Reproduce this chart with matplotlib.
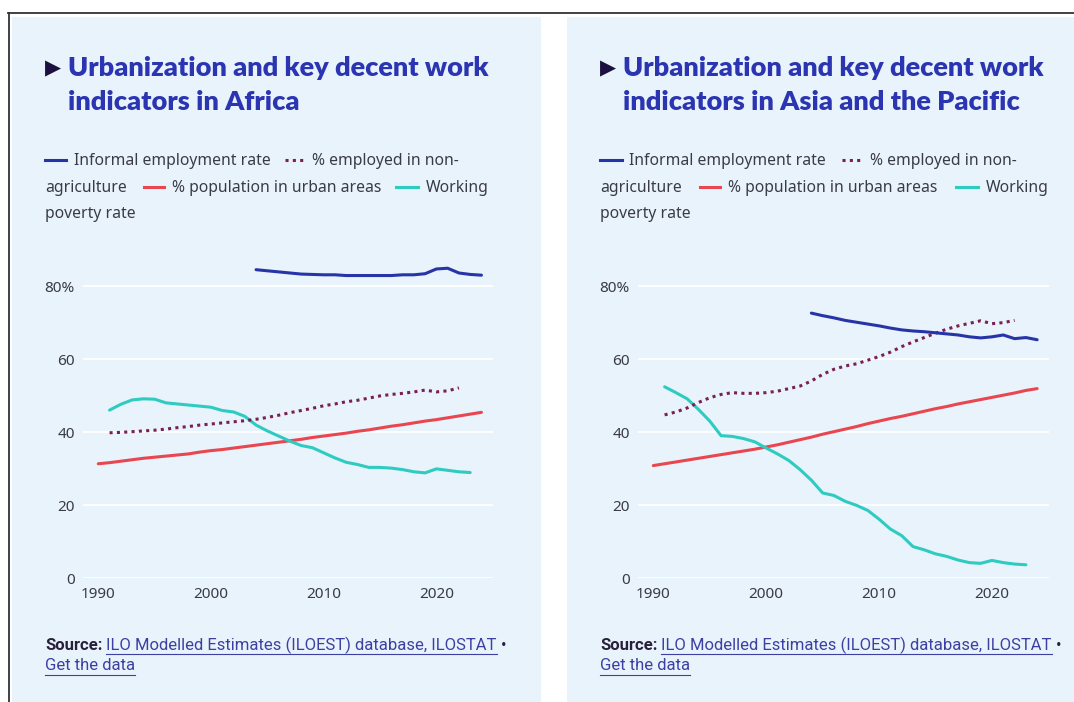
import matplotlib
matplotlib.use("Agg")
from matplotlib import pyplot as plt
from matplotlib.lines import Line2D
from matplotlib.patches import Rectangle

# ---- data: Africa ----
af_informal_years = list(range(2004, 2025))
af_informal = [84.6, 84.3, 84.0, 83.7, 83.4, 83.3, 83.2, 83.2, 83.0, 83.0, 83.0,
               83.0, 83.0, 83.2, 83.2, 83.5, 84.8, 85.0, 83.7, 83.3, 83.1]
af_nonagri_years = list(range(1991, 2023))
af_nonagri = [39.9, 40.0, 40.2, 40.4, 40.6, 40.9, 41.3, 41.6, 42.0, 42.3, 42.6,
              42.9, 43.2, 43.6, 44.1, 44.7, 45.4, 46.0, 46.6, 47.3, 47.8, 48.4,
              48.8, 49.4, 50.0, 50.4, 50.7, 51.1, 51.6, 51.1, 51.4, 52.2]
af_urban_years = list(range(1990, 2025))
af_urban = [31.4, 31.7, 32.1, 32.5, 32.9, 33.2, 33.5, 33.8, 34.1, 34.6, 35.0,
            35.3, 35.7, 36.1, 36.5, 36.9, 37.3, 37.7, 38.1, 38.6, 39.0, 39.4,
            39.8, 40.3, 40.7, 41.2, 41.7, 42.1, 42.6, 43.1, 43.5, 44.0, 44.5,
            45.0, 45.5]
af_poverty_years = list(range(1991, 2024))
af_poverty = [46.1, 47.7, 48.9, 49.2, 49.1, 48.1, 47.8, 47.5, 47.2, 46.9, 46.0,
              45.6, 44.4, 42.0, 40.4, 39.0, 37.6, 36.4, 35.8, 34.4, 33.0, 31.8,
              31.2, 30.4, 30.4, 30.2, 29.8, 29.2, 28.9, 30.0, 29.6, 29.2, 29.0]

# ---- data: Asia and the Pacific ----
ap_informal_years = list(range(2004, 2025))
ap_informal = [72.7, 72.0, 71.4, 70.7, 70.2, 69.7, 69.2, 68.6, 68.1, 67.8, 67.6,
               67.3, 67.0, 66.7, 66.2, 65.9, 66.2, 66.7, 65.7, 66.0, 65.4]
ap_nonagri_years = list(range(1991, 2023))
ap_nonagri = [44.8, 45.6, 46.7, 48.2, 49.5, 50.4, 50.9, 50.7, 50.7, 50.9, 51.3,
              52.0, 52.7, 54.1, 55.9, 57.3, 58.2, 58.8, 59.8, 60.8, 62.0, 63.5,
              64.8, 66.0, 67.2, 68.3, 69.2, 69.9, 70.6, 69.8, 70.1, 70.7]
ap_urban_years = list(range(1990, 2025))
ap_urban = [30.9, 31.4, 31.9, 32.4, 32.9, 33.4, 33.9, 34.4, 34.9, 35.4, 36.0,
            36.6, 37.3, 38.0, 38.7, 39.5, 40.2, 40.9, 41.6, 42.4, 43.1, 43.8,
            44.4, 45.1, 45.8, 46.5, 47.1, 47.8, 48.4, 49.0, 49.6, 50.2, 50.8,
            51.5, 52.0]
ap_poverty_years = list(range(1991, 2024))
ap_poverty = [52.5, 50.9, 49.2, 46.3, 43.1, 39.1, 38.9, 38.3, 37.4, 35.7, 34.1,
              32.3, 29.8, 26.9, 23.4, 22.7, 21.1, 20.0, 18.6, 16.2, 13.5, 11.7,
              8.7, 7.8, 6.7, 6.0, 5.0, 4.3, 4.1, 4.9, 4.3, 3.9, 3.7]

y_ticks = [0, 20, 40, 60, 80]
y_tick_labels = ["0", "20", "40", "60", "80%"]
x_ticks = [1990, 2000, 2010, 2020]

BG = "#e8f3fc"
C_INFORMAL = "#2734a8"
C_NONAGRI = "#7b1f52"
C_URBAN = "#e9464f"
C_POVERTY = "#2ecbc1"
C_TITLE = "#2b35b2"
C_TEXT = "#3a3a48"
C_LINK = "#3d40a3"

W, H = 1074, 702
fig = plt.figure(figsize=(W / 100, H / 100), dpi=100, facecolor="white")


def fx(px):
    return px / W


def fy(py):
    return 1 - py / H


# frame lines and panel backgrounds
fig.add_artist(Line2D([fx(8), fx(W)], [fy(12.5), fy(12.5)], color="#333333", lw=1.3))
fig.add_artist(Line2D([fx(8.5), fx(8.5)], [fy(12.5), 0], color="#333333", lw=1.3))
fig.add_artist(Rectangle((fx(12), 0), fx(529), fy(17), transform=fig.transFigure,
                         facecolor=BG, edgecolor="none", zorder=0))
fig.add_artist(Rectangle((fx(567), 0), fx(W - 567), fy(17), transform=fig.transFigure,
                         facecolor=BG, edgecolor="none", zorder=0))

title_font = dict(family="Lato", fontweight="heavy", fontsize=19.5, color=C_TITLE)
legend_font = dict(family="Noto Sans", fontsize=11.3, color=C_TEXT, va="center")
src_font = dict(family="Roboto", fontsize=12, va="center")


def underline(t, py):
    fig.canvas.draw()
    b = t.get_window_extent()
    fig.add_artist(Line2D([b.x0 / W, b.x1 / W], [fy(py), fy(py)], color=C_LINK, lw=0.8))
    return b


def panel(x0, ax_left, ax_right, title_lines, handle_xs, series):
    # title with a dark arrow marker
    fig.text(fx(x0 + 0), fy(68), "\u25B6", family="DejaVu Sans", fontsize=15,
             color="#1c1040", va="center")
    fig.text(fx(x0 + 23), fy(68), title_lines[0], va="center", **title_font)
    fig.text(fx(x0 + 23), fy(102), title_lines[1], va="center", **title_font)

    # legend laid out as wrapped text
    hx = handle_xs
    rows = [161, 188, 214]
    fig.add_artist(Line2D([fx(x0 + hx[0][0]), fx(x0 + hx[0][1])], [fy(rows[0] - 1)] * 2,
                          color=C_INFORMAL, lw=2.2))
    fig.text(fx(x0 + hx[0][2]), fy(rows[0]), "Informal employment rate", **legend_font)
    fig.add_artist(Line2D([fx(x0 + hx[1][0]), fx(x0 + hx[1][1])], [fy(rows[0] - 1)] * 2,
                          color=C_NONAGRI, lw=2.2, linestyle=(0, (1, 1.4))))
    fig.text(fx(x0 + hx[1][2]), fy(rows[0]), "% employed in non-", **legend_font)
    fig.text(fx(x0), fy(rows[1]), "agriculture", **legend_font)
    fig.add_artist(Line2D([fx(x0 + hx[2][0]), fx(x0 + hx[2][1])], [fy(rows[1] - 1)] * 2,
                          color=C_URBAN, lw=2.2))
    fig.text(fx(x0 + hx[2][2]), fy(rows[1]), "% population in urban areas", **legend_font)
    fig.add_artist(Line2D([fx(x0 + hx[3][0]), fx(x0 + hx[3][1])], [fy(rows[1] - 1)] * 2,
                          color=C_POVERTY, lw=2.2))
    fig.text(fx(x0 + hx[3][2]), fy(rows[1]), "Working", **legend_font)
    fig.text(fx(x0), fy(rows[2]), "poverty rate", **legend_font)

    # chart area
    top, bottom = 250.0, 578.3
    ax = fig.add_axes([fx(ax_left), fy(bottom), fx(ax_right - ax_left), (bottom - top) / H])
    ax.set_facecolor(BG)
    for s in ax.spines.values():
        s.set_visible(False)
    ax.set_xlim(1988.67, 2025.05)
    ax.set_ylim(0, 90)
    ax.set_yticks(y_ticks)
    ax.set_yticklabels(y_tick_labels)
    ax.set_xticks(x_ticks)
    ax.tick_params(length=0, labelsize=11, labelcolor="#3a3a48")
    ax.tick_params(axis="y", pad=6)
    ax.tick_params(axis="x", pad=6)
    for lab in ax.get_xticklabels() + ax.get_yticklabels():
        lab.set_family("Noto Sans")
    ax.grid(axis="y", color="white", lw=1.3)
    ax.set_axisbelow(True)

    (iy, iv), (ny, nv), (uy, uv), (py, pv) = series
    ax.plot(uy, uv, color=C_URBAN, lw=2.2, solid_capstyle="round")
    ax.plot(py, pv, color=C_POVERTY, lw=2.2, solid_capstyle="round")
    ax.plot(ny, nv, color=C_NONAGRI, lw=2.2, linestyle=(0, (1, 1.4)))
    ax.plot(iy, iv, color=C_INFORMAL, lw=2.2, solid_capstyle="round")

    # source note
    t = fig.text(fx(x0), fy(645), "Source:", fontweight="bold", color="#2a1f3d", **src_font)
    fig.canvas.draw()
    bb = t.get_window_extent()
    link = fig.text(bb.x1 / W + fx(4), fy(645),
                    "ILO Modelled Estimates (ILOEST) database, ILOSTAT",
                    color=C_LINK, **src_font)
    lb = underline(link, 654)
    fig.text(lb.x1 / W + fx(4), fy(645), "\u2022", color="#2a1f3d", **src_font)
    g = fig.text(fx(x0), fy(666), "Get the data", color=C_LINK, **src_font)
    underline(g, 675)


panel(45, 83.3, 493.3,
      ["Urbanization and key decent work", "indicators in Africa"],
      [(0, 21, 29), (240, 259, 267), (99, 119, 127), (351, 373, 381)],
      [(af_informal_years, af_informal), (af_nonagri_years, af_nonagri),
       (af_urban_years, af_urban), (af_poverty_years, af_poverty)])

panel(600, 638.3, 1049,
      ["Urbanization and key decent work", "indicators in Asia and the Pacific"],
      [(0, 22, 29), (242, 260, 270), (100, 120, 128), (356, 378, 386)],
      [(ap_informal_years, ap_informal), (ap_nonagri_years, ap_nonagri),
       (ap_urban_years, ap_urban), (ap_poverty_years, ap_poverty)])

fig.savefig("out.png", dpi=100, facecolor="white")
